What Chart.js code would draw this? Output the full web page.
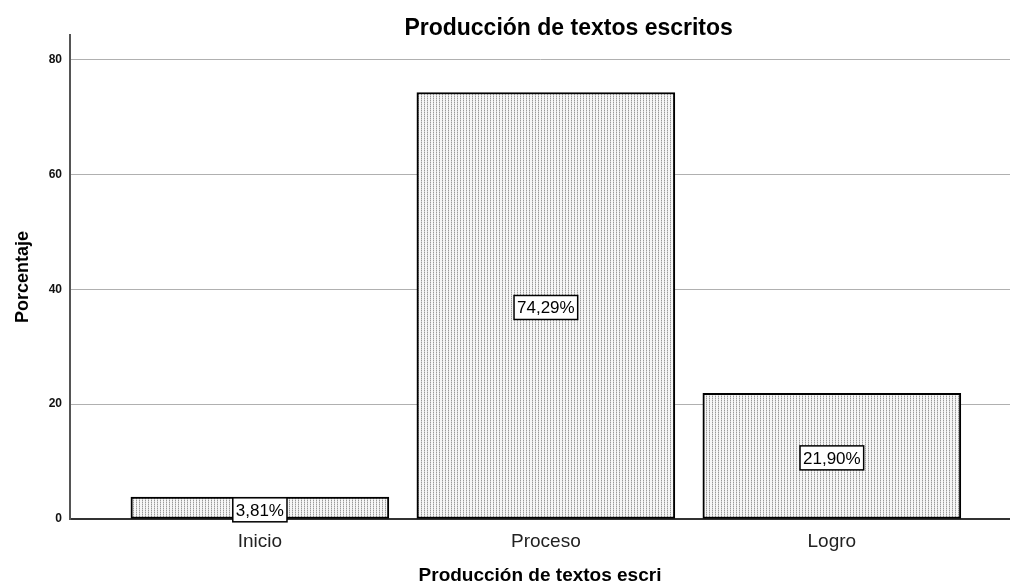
<!DOCTYPE html>
<html>
<head>
<meta charset="utf-8">
<script src="https://cdn.jsdelivr.net/npm/chart.js@4"></script>
<style>
  html, body { margin: 0; padding: 0; background: #fff; }
  #wrap { width: 1010px; height: 587px; }
</style>
</head>
<body>
<div id="wrap"><canvas id="myChart"></canvas></div>
<script>
// datos
const categorias = ['Inicio', 'Proceso', 'Logro']
const porcentajes = [3.81, 74.29, 21.90]
const etiquetas = ['3,81%', '74,29%', '21,90%']
const ticksY = [0, 20, 40, 60, 80]

const tituloGrafico = 'Producción de textos escritos'
const tituloX = 'Producción de textos escri'
const tituloY = 'Porcentaje'

const fuente = 'Arial, "Liberation Sans", sans-serif'

// patron punteado de las barras
function crearPatron() {
  var c = document.createElement('canvas')
  c.width = 3
  c.height = 2
  var g = c.getContext('2d')
  g.fillStyle = '#f7f7f7'
  g.fillRect(0, 0, 3, 2)
  g.fillStyle = '#9a9a9a'
  g.fillRect(1, 0, 1, 1)
  g.fillStyle = '#d0d0d0'
  g.fillRect(1, 1, 1, 1)
  return document.createElement('canvas').getContext('2d').createPattern(c, 'repeat')
}

// titulo principal
const pluginTitulo = {
  id: 'tituloSpss',
  afterDraw(chart) {
    var ctx = chart.ctx
    ctx.save()
    ctx.font = 'bold 23px ' + fuente
    ctx.fillStyle = '#000'
    ctx.textAlign = 'center'
    ctx.textBaseline = 'middle'
    ctx.fillText(tituloGrafico, chart.width * 0.563, 29)
    ctx.restore()
  }
}

// cajas con el porcentaje en el centro de cada barra
const pluginEtiquetas = {
  id: 'etiquetasSpss',
  afterDatasetsDraw(chart) {
    var ctx = chart.ctx
    var meta = chart.getDatasetMeta(0)
    ctx.save()
    ctx.font = '17px ' + fuente
    ctx.textAlign = 'center'
    ctx.textBaseline = 'middle'
    meta.data.forEach(function(bar, i) {
      var texto = etiquetas[i]
      var cx = bar.x
      var cy = (bar.y + bar.base) / 2 + 2
      var w = ctx.measureText(texto).width + 6
      var h = 24
      ctx.fillStyle = '#fff'
      ctx.fillRect(cx - w / 2, cy - h / 2, w, h)
      ctx.strokeStyle = '#000'
      ctx.lineWidth = 1.5
      ctx.strokeRect(cx - w / 2, cy - h / 2, w, h)
      ctx.fillStyle = '#000'
      ctx.fillText(texto, cx, cy + 1)
    })
    ctx.restore()
  }
}

var ctx = document.getElementById('myChart')

var grafico = new Chart(ctx, {
  type: 'bar',
  data: {
    datasets: [{
      data: categorias.map(function(c, i) { return { x: i, y: porcentajes[i] } }),
      backgroundColor: crearPatron(),
      borderColor: '#000',
      borderWidth: 2,
      borderSkipped: false,
      barThickness: 258
    }]
  },
  options: {
    responsive: true,
    maintainAspectRatio: false,
    animation: false,
    layout: { padding: { top: 35, right: 0, left: 0, bottom: 0 } },
    plugins: {
      legend: { display: false },
      tooltip: { enabled: false },
      title: { display: false }
    },
    scales: {
      x: {
        type: 'linear',
        offset: false,
        min: -0.664,
        max: 2.623,
        afterBuildTicks(scale) {
          scale.ticks = categorias.map(function(c, i) { return { value: i } })
        },
        afterFit(scale) { scale.height = 68 },
        ticks: {
          autoSkip: false,
          maxRotation: 0,
          padding: 11,
          color: '#222',
          font: { family: fuente, size: 19 },
          callback: function(v) { return categorias[v] }
        },
        grid: { display: false, drawTicks: false },
        border: { display: true, color: '#333', width: 2 },
        title: {
          display: true,
          text: tituloX,
          color: '#000',
          font: { family: fuente, size: 19, weight: 'bold' },
          padding: { top: 12, bottom: 0 }
        }
      },
      y: {
        min: 0,
        max: 84.3,
        afterBuildTicks(scale) {
          scale.ticks = ticksY.map(function(v) { return { value: v } })
        },
        afterFit(scale) { scale.width = 70 },
        ticks: {
          padding: 8,
          color: '#111',
          font: { family: fuente, size: 12, weight: 'bold' }
        },
        grid: { color: '#b0b0b0', lineWidth: 1, drawTicks: false },
        border: { display: true, color: '#555', width: 2 },
        title: {
          display: true,
          text: tituloY,
          color: '#000',
          font: { family: fuente, size: 18, weight: 'bold' },
          padding: { top: 12, bottom: 0 }
        }
      }
    }
  },
  plugins: [pluginTitulo, pluginEtiquetas]
})
</script>
</body>
</html>
